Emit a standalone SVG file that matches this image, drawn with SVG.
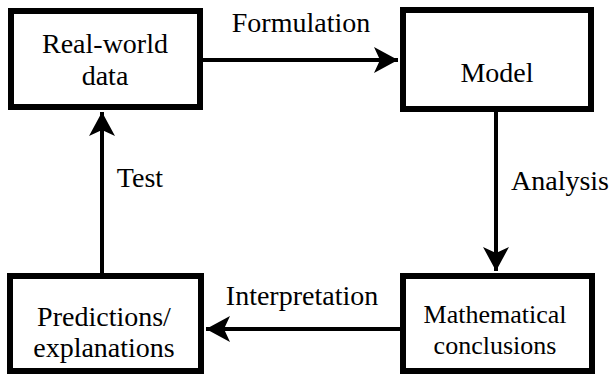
<svg xmlns="http://www.w3.org/2000/svg" width="615" height="377" viewBox="0 0 615 377">
  <style>
    .box { fill: #ffffff; stroke: #000000; stroke-width: 6; }
    .edge { stroke: #000000; stroke-width: 4; fill: none; }
  </style>
  <defs>
    <!-- barbed arrowhead shared by all connectors -->
    <marker id="arrow" markerUnits="userSpaceOnUse" markerWidth="26" markerHeight="28" refX="24" refY="13" orient="auto">
      <path d="M24,13 L0,0 L6,13 L0,26 Z" fill="#000000"/>
    </marker>
  </defs>

  <g id="connectors">
    <line class="edge" x1="203" y1="60" x2="398" y2="60" marker-end="url(#arrow)"/>
    <line class="edge" x1="496" y1="112" x2="496" y2="271" marker-end="url(#arrow)"/>
    <line class="edge" x1="400" y1="329" x2="206" y2="329" marker-end="url(#arrow)"/>
    <line class="edge" x1="102" y1="273" x2="102" y2="112" marker-end="url(#arrow)"/>
  </g>

  <g id="edge-labels" font-family="Liberation Serif, Times New Roman, serif" font-size="28" text-anchor="middle" fill="#000000">
    <text x="301" y="32">Formulation</text>
    <text x="560" y="190">Analysis</text>
    <text x="302" y="305">Interpretation</text>
    <text x="140" y="187">Test</text>
  </g>

  <g id="real-world-data" font-family="Liberation Serif, Times New Roman, serif" font-size="28" text-anchor="middle">
    <rect class="box" x="11" y="11" width="189" height="96"/>
    <text x="105" y="53">Real-world</text>
    <text x="105" y="85">data</text>
  </g>

  <g id="model" font-family="Liberation Serif, Times New Roman, serif" font-size="28" text-anchor="middle">
    <rect class="box" x="403" y="10" width="188" height="99"/>
    <text x="497" y="82">Model</text>
  </g>

  <g id="predictions" font-family="Liberation Serif, Times New Roman, serif" font-size="28" text-anchor="middle">
    <rect class="box" x="10" y="276" width="191" height="95"/>
    <text x="104" y="326">Predictions/</text>
    <text x="104" y="357">explanations</text>
  </g>

  <g id="conclusions" font-family="Liberation Serif, Times New Roman, serif" font-size="26" text-anchor="middle">
    <rect class="box" x="403" y="276" width="189" height="95"/>
    <text x="495" y="323">Mathematical</text>
    <text x="495" y="354">conclusions</text>
  </g>
</svg>
